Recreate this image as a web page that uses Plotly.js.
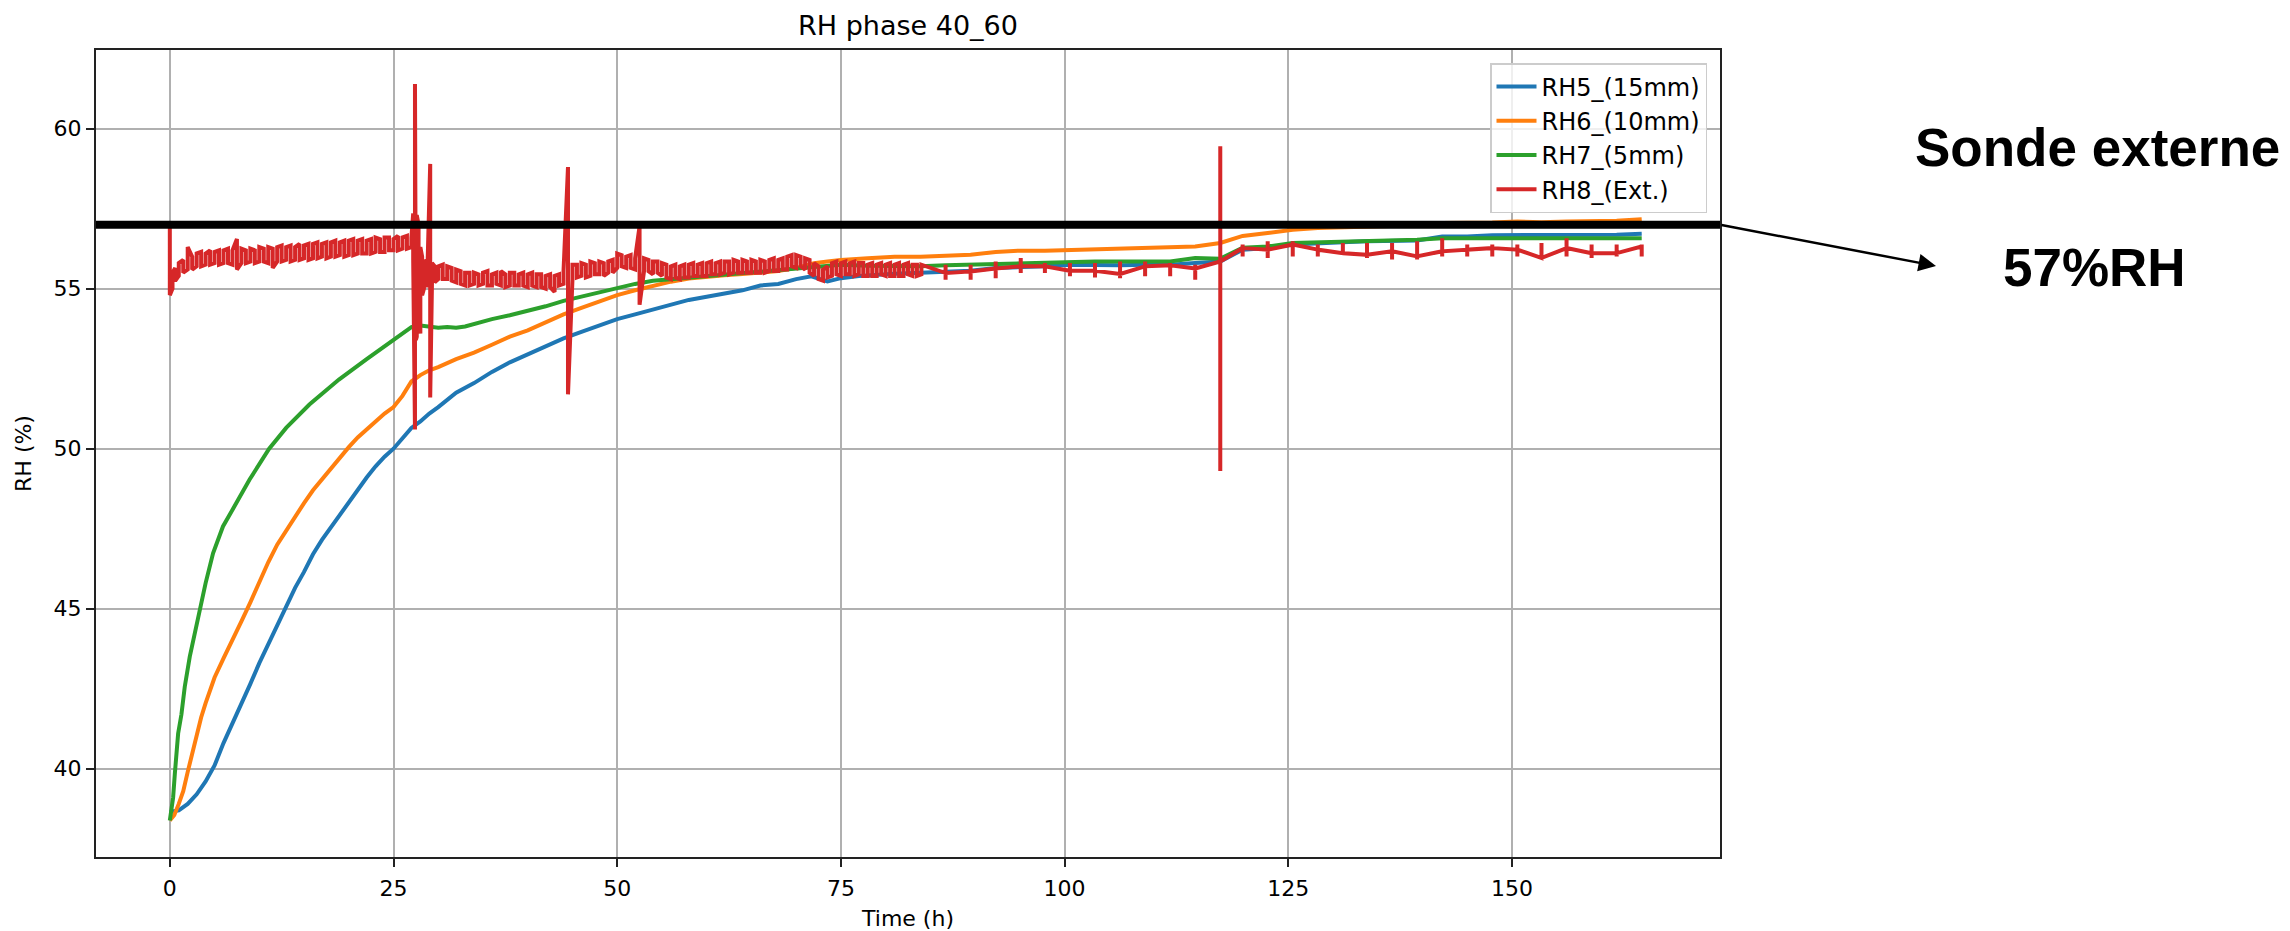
<!DOCTYPE html>
<html>
<head>
<meta charset="utf-8">
<script src="https://cdn.plot.ly/plotly-3.0.1.min.js"></script>
<style>
  html, body { margin: 0; padding: 0; background: #ffffff; }
  #chart { width: 2290px; height: 931px; }
</style>
</head>
<body>
<div id="chart"></div>
<script>
// ---------------- DATA ----------------
const chartTitle = "RH phase 40_60";
const xTitle = "Time (h)";
const yTitle = "RH (%)";
const seriesNames = ["RH5_(15mm)", "RH6_(10mm)", "RH7_(5mm)", "RH8_(Ext.)"];
const xTicks = [0, 25, 50, 75, 100, 125, 150];
const yTicks = [40, 45, 50, 55, 60];
const sondeExterne = 57;
const noteLine1 = "Sonde externe";
const noteLine2 = "57%RH";

// sparse sampling times (after ~84 h)
const sparseT = [86.7, 89.5, 92.3, 95.1, 97.8, 100.6, 103.4, 106.2, 109.0, 111.8, 114.6, 117.4,
  119.9, 122.7, 125.5, 128.3, 131.1, 133.8, 136.6, 139.4, 142.2, 145.0, 147.8, 150.6, 153.3,
  156.1, 158.9, 161.7, 164.5];

// RH5 (blue)
const rh5T = [0, 1, 2, 3, 4, 5, 6, 7, 8, 9, 10, 11, 12, 13, 14, 15, 16, 17, 18, 19, 20, 21, 22, 23, 24, 25,
  26, 27, 28, 29, 30, 32, 34, 36, 38, 40, 42, 44, 46, 48, 50, 52, 54, 56, 58, 60, 62, 64, 66, 68, 70,
  71.7, 73.5, 75, 77, 79, 81, 83.9];
const rh5V = [38.65, 38.7, 38.9, 39.2, 39.6, 40.1, 40.8, 41.4, 42.0, 42.65, 43.3, 43.9, 44.5, 45.1, 45.65,
  46.15, 46.7, 47.15, 47.55, 47.95, 48.35, 48.75, 49.1, 49.45, 49.75, 50.0, 50.35, 50.65, 50.85, 51.1,
  51.3, 51.75, 52.05, 52.4, 52.7, 52.95, 53.2, 53.45, 53.65, 53.85, 54.05, 54.2, 54.35, 54.5, 54.65,
  54.75, 54.85, 54.95, 55.1, 55.15, 55.3, 55.39, 55.23, 55.33, 55.4, 55.45, 55.47, 55.5];
const rh5Sparse = [55.52, 55.56, 55.65, 55.67, 55.7, 55.75, 55.73, 55.73, 55.75, 55.75, 55.8, 55.85,
  56.22, 56.27, 56.38, 56.43, 56.45, 56.48, 56.48, 56.51, 56.63, 56.63, 56.67, 56.67, 56.66, 56.67,
  56.67, 56.69, 56.72];

// RH6 (orange)
const rh6T = [0, 0.5, 1, 1.5, 2, 2.5, 3, 3.5, 4, 5, 6, 7, 8, 9, 10, 11, 12, 13, 14, 15, 16, 17, 18, 19, 20,
  21, 22, 23, 24, 25, 26, 27, 28, 29, 30, 32, 34, 36, 38, 40, 42, 44, 46, 48, 50, 52, 54, 56, 58, 60,
  62, 64, 66, 68, 70, 72, 73.5, 75, 78, 81, 83.9];
const rh6V = [38.38, 38.55, 38.9, 39.3, 39.9, 40.5, 41.1, 41.6, 42.05, 42.85, 43.45, 44.0, 44.6, 45.2,
  45.85, 46.45, 47.0, 47.45, 47.9, 48.3, 48.7, 49.05, 49.4, 49.75, 50.05, 50.35, 50.6, 50.85, 51.1,
  51.3, 51.65, 52.1, 52.3, 52.45, 52.55, 52.8, 53.0, 53.25, 53.5, 53.7, 53.95, 54.2, 54.4, 54.6, 54.8,
  54.95, 55.1, 55.22, 55.32, 55.38, 55.42, 55.46, 55.5, 55.55, 55.65, 55.8, 55.85, 55.9, 55.95, 56.0, 56.0];
const rh6Sparse = [56.03, 56.06, 56.15, 56.19, 56.19, 56.21, 56.22, 56.24, 56.27, 56.27, 56.32, 56.43,
  56.65, 56.74, 56.84, 56.9, 56.92, 56.93, 56.95, 56.98, 57.05, 57.05, 57.07, 57.1, 57.08, 57.1,
  57.1, 57.12, 57.17];

// RH7 (green)
const rh7T = [0, 0.37, 0.56, 0.93, 1.3, 1.67, 2.23, 2.97, 3.5, 4.0, 4.83, 5.94, 7.43, 8.9, 11.1, 13.0,
  15.6, 18.9, 22, 25, 27, 28, 29, 30, 31, 32, 33, 34, 36, 38, 40, 42, 44, 46, 48, 50, 52, 54, 56, 58,
  60, 62, 64, 66, 68, 70, 72, 75, 78, 81, 83.9];
const rh7V = [38.38, 39.1, 39.84, 41.1, 41.7, 42.56, 43.5, 44.5, 45.15, 45.8, 46.73, 47.57, 48.3, 49.03,
  50.0, 50.65, 51.38, 52.16, 52.8, 53.4, 53.8, 53.85, 53.8, 53.78, 53.8, 53.78, 53.82, 53.9, 54.05,
  54.17, 54.3, 54.45, 54.62, 54.75, 54.9, 55.0, 55.15, 55.25, 55.3, 55.35, 55.4, 55.45, 55.5, 55.55,
  55.6, 55.65, 55.7, 55.75, 55.72, 55.7, 55.7];
const rh7Sparse = [55.73, 55.75, 55.78, 55.8, 55.8, 55.85, 55.85, 55.85, 55.85, 55.85, 55.96, 55.94,
  56.28, 56.32, 56.43, 56.45, 56.46, 56.48, 56.48, 56.53, 56.58, 56.58, 56.6, 56.6, 56.6, 56.61,
  56.61, 56.6, 56.58];

// RH8 (red) dense part: top and bottom of the noisy band (and spikes) at each time
const rh8T = [0, 0.3, 0.6, 1, 1.5, 2, 2.5, 3, 3.5, 4, 4.5, 5, 5.5, 6, 6.5, 7, 7.5, 8, 8.5, 9, 9.5,
  10, 10.5, 11, 11.5, 12, 12.5, 13, 13.5, 14, 14.5, 15, 15.5, 16, 16.5, 17, 17.5, 18, 18.5, 19, 19.5,
  20, 20.5, 21, 21.5, 22, 22.5, 23, 23.5, 24, 24.5, 25, 25.5, 26, 26.5, 27,
  27.2, 27.4, 27.5, 27.6, 27.8, 28.0, 28.2, 28.4, 28.6, 28.8, 29.1, 29.3, 29.6,
  30, 30.5, 31, 31.5, 32, 32.5, 33, 33.5, 34, 34.5, 35, 35.5, 36, 36.5, 37, 37.5, 38, 38.5, 39, 39.5,
  40, 40.5, 41, 41.5, 42, 42.5, 43, 43.5, 44, 44.5, 45, 45.5, 46, 46.5, 47, 47.5, 48, 48.5,
  49, 49.5, 50, 50.5, 51, 51.5, 52, 52.5, 53, 53.5, 54, 54.5, 55, 55.5, 56, 56.5, 57, 57.5,
  58, 58.5, 59, 59.5, 60, 60.5, 61, 61.5, 62, 62.5, 63, 63.5, 64, 64.5, 65, 65.5, 66, 66.5, 67, 67.5,
  68, 68.5, 69, 69.5, 70, 70.5, 71, 71.5, 72, 72.5, 73, 73.5, 74, 74.5, 75, 75.5, 76, 76.5, 77, 77.5,
  78, 78.5, 79, 79.5, 80, 80.5, 81, 81.5, 82, 82.5, 83, 83.5, 84];
const rh8Hi = [57.1, 55.5, 55.65, 55.8, 55.9, 56.3, 56.0, 56.1, 56.15, 56.1, 56.2, 56.15, 56.2, 56.2,
  56.25, 56.2, 56.55, 56.25, 56.2, 56.25, 56.2, 56.3, 56.25, 56.3, 56.25, 56.3, 56.35, 56.3, 56.35,
  56.3, 56.4, 56.35, 56.4, 56.4, 56.45, 56.4, 56.45, 56.45, 56.5, 56.45, 56.5, 56.5, 56.55, 56.5,
  56.55, 56.5, 56.55, 56.6, 56.55, 56.6, 56.6, 56.55, 56.65, 56.6, 56.65, 56.6,
  57.35, 61.4, 60.6, 57.3, 57.0, 56.3, 56.0, 55.9, 55.8, 55.7, 58.9, 55.8, 55.7,
  55.7, 55.75, 55.7, 55.65, 55.6, 55.55, 55.5, 55.5, 55.5, 55.45, 55.5, 55.55, 55.45, 55.5, 55.55,
  55.45, 55.5, 55.5, 55.45, 55.5, 55.45, 55.5, 55.45, 55.45, 55.4, 55.45, 55.4, 55.45, 55.55, 58.8,
  55.75, 55.75, 55.8, 55.75, 55.85, 55.8, 55.85, 55.8, 55.85, 55.9, 56.1, 56.05, 56.0, 56.05, 55.95,
  56.95, 55.95, 55.9, 55.85, 55.85, 55.8, 55.75, 55.7, 55.75, 55.7, 55.75, 55.75, 55.8, 55.75, 55.8,
  55.8, 55.85, 55.8, 55.85, 55.85, 55.85, 55.9, 55.85, 55.9, 55.85, 55.9, 55.85, 55.9, 55.85, 55.9,
  55.95, 55.9, 55.95, 56.0, 56.05, 56.05, 56.0, 55.95, 55.9, 55.8, 55.7, 55.6, 55.7, 55.8, 55.85,
  55.8, 55.85, 55.8, 55.85, 55.8, 55.8, 55.75, 55.8, 55.75, 55.8, 55.75, 55.8, 55.75, 55.8, 55.75,
  55.8, 55.75, 55.75, 55.75];
const rh8Lo = [54.8, 55.0, 55.25, 55.4, 55.5, 55.6, 55.6, 55.7, 55.7, 55.75, 55.75, 55.8, 55.75, 55.8,
  55.8, 55.75, 55.6, 55.8, 55.8, 55.85, 55.8, 55.85, 55.85, 55.8, 55.65, 55.85, 55.85, 55.9, 55.85,
  55.9, 55.9, 55.95, 55.9, 55.95, 55.95, 56.0, 55.95, 56.0, 56.0, 56.05, 56.0, 56.05, 56.05, 56.1,
  56.1, 56.1, 56.1, 56.15, 56.15, 56.15, 56.2, 56.2, 56.2, 56.25, 56.25, 56.3,
  55.9, 50.6, 53.4, 53.5, 54.0, 53.6, 54.8, 55.0, 55.1, 55.1, 51.6, 55.2, 55.2,
  55.3, 55.3, 55.3, 55.25, 55.2, 55.15, 55.1, 55.1, 55.15, 55.1, 55.15, 55.1, 55.1, 55.15, 55.1,
  55.05, 55.1, 55.1, 55.1, 55.1, 55.05, 55.1, 55.05, 55.05, 55.0, 55.05, 54.9, 55.1, 55.15, 51.7,
  55.3, 55.35, 55.4, 55.35, 55.4, 55.45, 55.45, 55.4, 55.5, 55.5, 55.65, 55.7, 55.65, 55.65, 55.6,
  54.5, 55.55, 55.55, 55.45, 55.5, 55.4, 55.35, 55.3, 55.35, 55.3, 55.35, 55.35, 55.4, 55.4, 55.4,
  55.4, 55.45, 55.45, 55.45, 55.5, 55.45, 55.5, 55.5, 55.5, 55.5, 55.5, 55.5, 55.5, 55.5, 55.55,
  55.55, 55.55, 55.6, 55.6, 55.7, 55.65, 55.7, 55.6, 55.5, 55.4, 55.3, 55.25, 55.35, 55.4, 55.45,
  55.4, 55.45, 55.45, 55.4, 55.45, 55.4, 55.4, 55.4, 55.4, 55.45, 55.4, 55.4, 55.4, 55.4, 55.4,
  55.45, 55.4, 55.4, 55.45];
// RH8 sparse part: level, tick top, tick bottom at each sample
const rh8SparseMid = [55.49, 55.54, 55.63, 55.7, 55.7, 55.56, 55.56, 55.46, 55.7, 55.73, 55.63, 55.85,
  56.27, 56.22, 56.38, 56.22, 56.11, 56.06, 56.17, 56.01, 56.17, 56.22, 56.27, 56.22, 55.96, 56.27,
  56.11, 56.11, 56.32];
const rh8SparseHi = [55.75, 55.75, 55.85, 55.96, 55.8, 55.8, 55.8, 55.85, 55.85, 55.8, 55.75, 59.45,
  56.38, 56.48, 56.48, 56.38, 56.43, 56.43, 56.43, 56.48, 56.58, 56.38, 56.38, 56.38, 56.43, 56.58,
  56.38, 56.38, 56.38];
const rh8SparseLo = [55.28, 55.28, 55.33, 55.49, 55.49, 55.39, 55.35, 55.33, 55.39, 55.39, 55.28, 49.3,
  56.01, 55.96, 56.01, 56.01, 56.06, 55.96, 55.91, 55.91, 56.01, 56.01, 56.01, 56.01, 55.94, 56.01,
  55.96, 56.01, 56.01];

// ---------------- BUILD TRACES ----------------
const colors = ["#1f77b4", "#ff7f0e", "#2ca02c", "#d62728"];
function joinSeries(tDense, vDense, vSparse) {
  return { x: tDense.concat(sparseT), y: vDense.concat(vSparse) };
}
const s5 = joinSeries(rh5T, rh5V, rh5Sparse);
const s6 = joinSeries(rh6T, rh6V, rh6Sparse);
const s7 = joinSeries(rh7T, rh7V, rh7Sparse);
const s8 = { x: [], y: [] };
rh8T.forEach((t, i) => {
  if (i % 2 === 0) { s8.x.push(t, t); s8.y.push(rh8Hi[i], rh8Lo[i]); }
  else { s8.x.push(t, t); s8.y.push(rh8Lo[i], rh8Hi[i]); }
});
sparseT.forEach((t, i) => {
  s8.x.push(t, t, t, t);
  s8.y.push(rh8SparseMid[i], rh8SparseHi[i], rh8SparseLo[i], rh8SparseMid[i]);
});
const all = [s5, s6, s7, s8];
const traces = all.map((s, i) => ({
  type: "scatter", mode: "lines", name: seriesNames[i],
  x: s.x, y: s.y,
  line: { color: colors[i], width: 4 }
}));

// ---------------- LAYOUT ----------------
const W = 2290, H = 931;
const mL = 96, mR = 570, mT = 50, mB = 74;
const pw = W - mL - mR, ph = H - mT - mB;
const px2x = (px) => (px - mL) / pw;
const py2y = (py) => (H - mB - py) / ph;

const axisCommon = {
  showgrid: true, gridcolor: "#b0b0b0", gridwidth: 2,
  zeroline: false, showline: true, mirror: true,
  linecolor: "#222222", linewidth: 2,
  ticks: "outside", ticklen: 8, tickwidth: 2, tickcolor: "#222222",
  tickfont: { family: "DejaVu Sans", size: 22, color: "#000000" },
  tickmode: "array"
};

const layout = {
  width: W, height: H,
  margin: { l: mL, r: mR, t: mT, b: mB, pad: 0 },
  paper_bgcolor: "#ffffff", plot_bgcolor: "#ffffff",
  font: { family: "DejaVu Sans", color: "#000000" },
  title: {
    text: chartTitle, font: { family: "DejaVu Sans", size: 27, color: "#000000" },
    x: 0.5, xref: "paper", xanchor: "center",
    y: 1 - 26 / H, yref: "container", yanchor: "middle"
  },
  xaxis: Object.assign({}, axisCommon, {
    range: [-8.25, 173.25], tickvals: xTicks, ticktext: xTicks.map(String),
    ticklabelstandoff: 3,
    title: { text: xTitle, font: { family: "DejaVu Sans", size: 22, color: "#000000" }, standoff: 12 }
  }),
  yaxis: Object.assign({}, axisCommon, {
    range: [37.24, 62.46], tickvals: yTicks, ticktext: yTicks.map(String),
    title: { text: yTitle, font: { family: "DejaVu Sans", size: 22, color: "#000000" }, standoff: 16 }
  }),
  showlegend: true,
  legend: {
    x: px2x(1707), xanchor: "right", y: py2y(63), yanchor: "top",
    bgcolor: "rgba(255,255,255,0.8)", bordercolor: "#cccccc", borderwidth: 1.5,
    font: { family: "DejaVu Sans", size: 24, color: "#000000" },
    itemwidth: 40
  },
  shapes: [{
    type: "line", xref: "paper", yref: "y", x0: 0, x1: 1, y0: sondeExterne, y1: sondeExterne,
    line: { color: "#000000", width: 8 }, layer: "above"
  }],
  annotations: [
    {
      xref: "paper", yref: "paper", x: px2x(1936), y: py2y(266),
      axref: "pixel", ayref: "pixel", ax: -(1936 - 1720), ay: -(266 - 224.7),
      text: "", showarrow: true, arrowhead: 2, arrowsize: 1.4, arrowwidth: 2.5, arrowcolor: "#000000"
    },
    {
      xref: "paper", yref: "paper", x: px2x(2097), y: py2y(147), xanchor: "center", yanchor: "middle",
      text: "<b>" + noteLine1 + "</b>", showarrow: false,
      font: { family: "Liberation Sans, Arial, sans-serif", size: 53, color: "#000000" }
    },
    {
      xref: "paper", yref: "paper", x: px2x(2094), y: py2y(268), xanchor: "center", yanchor: "middle",
      text: "<b>" + noteLine2 + "</b>", showarrow: false,
      font: { family: "Liberation Sans, Arial, sans-serif", size: 53, color: "#000000" }
    }
  ]
};

Plotly.newPlot("chart", traces, layout, { displayModeBar: false, staticPlot: true });
</script>
</body>
</html>
